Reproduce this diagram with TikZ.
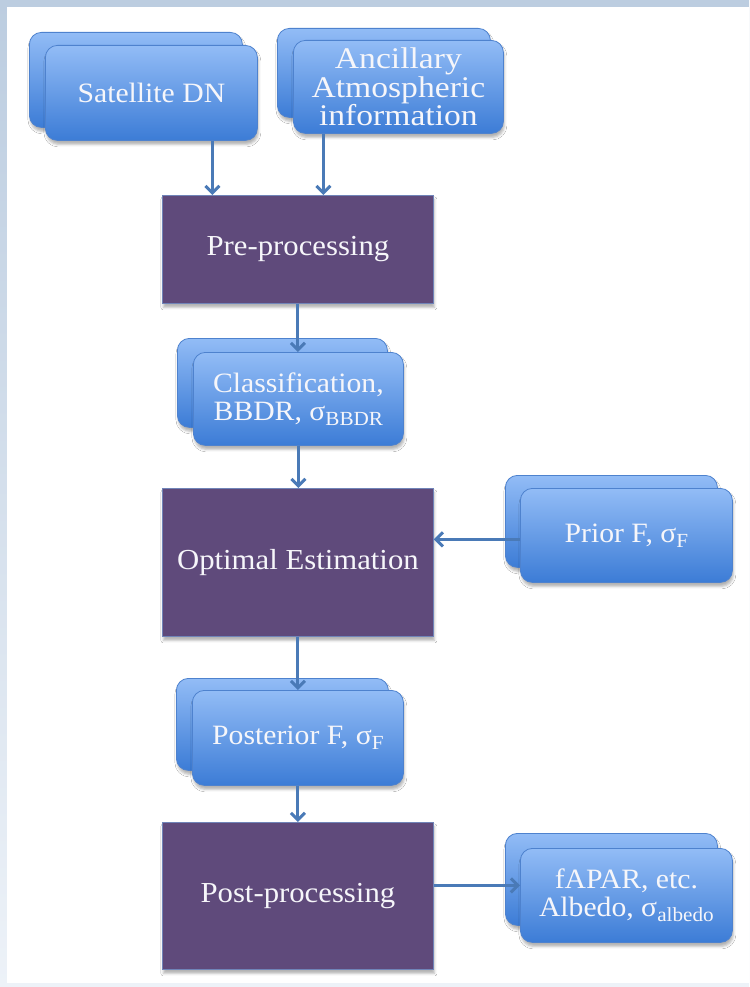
\documentclass[tikz,border=0pt]{standalone}
\usepackage{fontspec}
\setmainfont{Liberation Serif}[FakeStretch=1.06]
\usetikzlibrary{arrows.meta,shadows.blur}
\definecolor{frameTop}{RGB}{188,205,224}
\definecolor{frameBot}{RGB}{237,242,248}
\definecolor{boxTop}{RGB}{146,188,246}
\definecolor{boxBot}{RGB}{60,124,214}
\definecolor{boxLine}{RGB}{78,130,206}
\definecolor{purp}{RGB}{95,74,123}
\definecolor{purpLine}{RGB}{112,132,184}
\definecolor{arrC}{RGB}{74,122,183}
\definecolor{txt}{RGB}{246,246,250}
\newcommand\mysub[1]{\raisebox{-5pt}{\fontsize{20}{20}\selectfont #1}}
\begin{document}
\begin{tikzpicture}[x=1pt,y=-1pt,
  bluebox/.style={rounded corners=12pt, top color=boxTop, bottom color=boxBot,
    draw=boxLine, line width=0.8pt, anchor=north west, inner sep=0pt,
    blur shadow={shadow xshift=1pt, shadow yshift=-4pt, shadow blur radius=2.5pt, shadow opacity=30},
    text=txt, align=center, font=\fontsize{28}{27}\selectfont},
  purpbox/.style={fill=purp, draw=purpLine, line width=0.8pt, anchor=north west, inner sep=0pt,
    blur shadow={shadow xshift=1pt, shadow yshift=-4pt, shadow blur radius=2.5pt, shadow opacity=30},
    text=txt, align=center, font=\fontsize{29}{30}\selectfont},
  arr/.style={draw=arrC, line width=3pt, -{Straight Barb[length=7pt,width=14pt]}}]
\useasboundingbox (0,0) rectangle (749,987);
\shade[top color=frameTop, bottom color=frameBot] (0,0) rectangle (749,987);
\fill[white] (7,7) rectangle (749,983);

% Satellite DN
\node[bluebox, minimum width=213pt, minimum height=95pt] (satB) at (29,32) {};
\node[bluebox, minimum width=212pt, minimum height=95pt] (sat) at (45,45) {Satellite DN};
% Ancillary
\node[bluebox, minimum width=213pt, minimum height=89pt] (ancB) at (277,28) {};
\node[bluebox, minimum width=210pt, minimum height=93pt,
  font=\fontsize{30}{27}\selectfont\addfontfeature{FakeStretch=1.12}] (anc) at (293,40) {Ancillary\\Atmospheric\\information};
% Pre-processing
\node[purpbox, minimum width=271pt, minimum height=108pt] (pre) at (162,195) {Pre-processing};
% Classification
\node[bluebox, minimum width=210pt, minimum height=89pt] (clsB) at (177,338) {};
\node[bluebox, minimum width=210pt, minimum height=93pt] (cls) at (193,352) {Classification,\\[1pt]BBDR, σ\mysub{BBDR}};
% Optimal Estimation
\node[purpbox, minimum width=271pt, minimum height=148pt] (oe) at (162,488) {Optimal Estimation};
% Prior
\node[bluebox, minimum width=212pt, minimum height=92pt] (priB) at (505,475) {};
\node[bluebox, minimum width=212pt, minimum height=94pt] (pri) at (520,488) {Prior F, σ\mysub{F}};
% Posterior
\node[bluebox, minimum width=212pt, minimum height=92pt] (posB) at (176,678) {};
\node[bluebox, minimum width=211pt, minimum height=95pt] (pos) at (192,690) {Posterior F, σ\mysub{F}};
% Post-processing
\node[purpbox, minimum width=271pt, minimum height=147pt] (pp) at (162,822) {Post-processing};
% fAPAR
\node[bluebox, minimum width=212pt, minimum height=92pt] (fapB) at (505,833) {};
\node[bluebox, minimum width=212pt, minimum height=94pt] (fap) at (520,848) {fAPAR, etc.\\[1pt]Albedo, σ\mysub{albedo}};

% connectors
\coordinate (s1) at ([xshift=61pt]sat.south);
\draw[arr] (s1) -- (s1 |- pre.north);
\coordinate (a1) at ([xshift=-75pt]anc.south);
\draw[arr] (a1) -- (a1 |- pre.north);
\draw[arr] (pre.south) -- (pre.south |- cls.north);
\draw[arr] (cls.south) -- (cls.south |- oe.north);
\coordinate (p1) at ([yshift=-4pt]pri.west);
\draw[arr] (p1) -- (p1 -| oe.east);
\draw[arr] (oe.south) -- (oe.south |- pos.north);
\draw[arr] (pos.south) -- (pos.south |- pp.north);
\coordinate (f1) at ([yshift=10pt]fap.west);
\draw[arr] (f1 -| pp.east) -- (f1);
\end{tikzpicture}
\end{document}
